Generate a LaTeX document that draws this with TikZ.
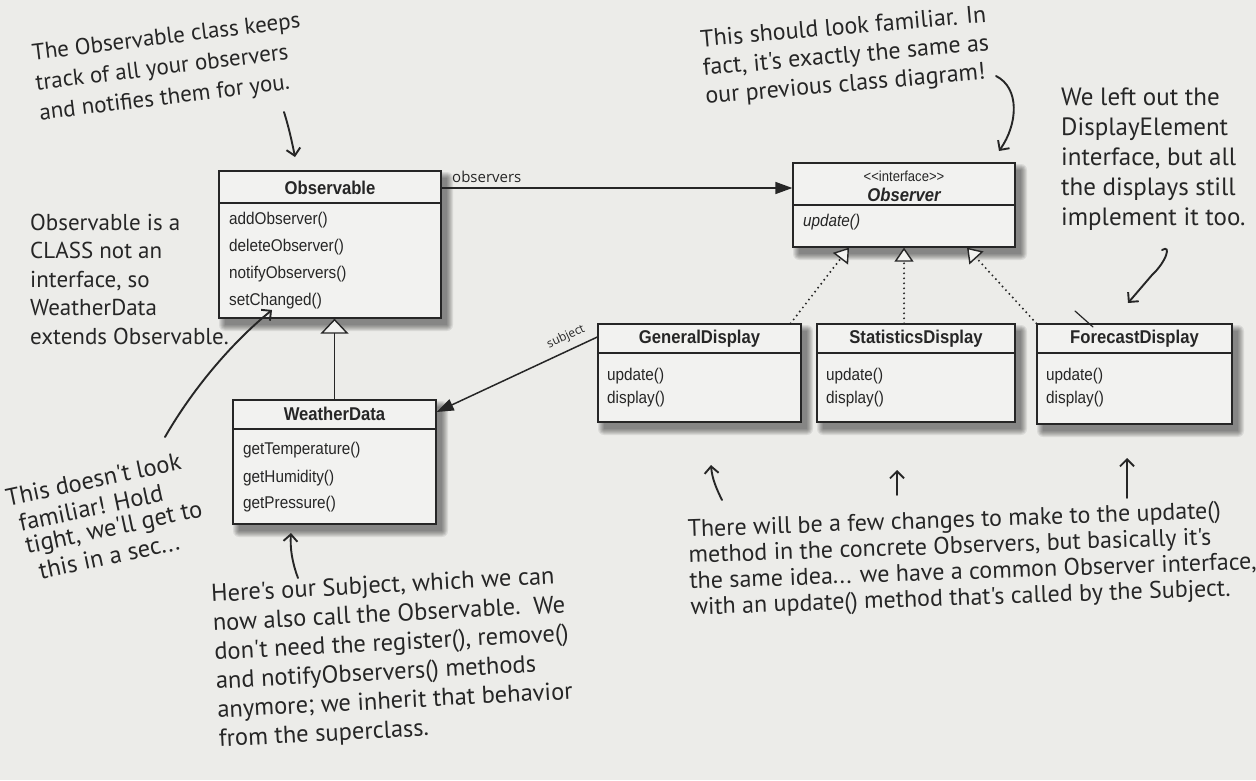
\documentclass[tikz,border=0pt]{standalone}
\usepackage{fontspec}
\usetikzlibrary{arrows.meta,fit,calc}
\newfontfamily\umlf[FakeStretch=0.9]{Liberation Sans}
\newfontfamily\handf{PT Sans}
\newfontfamily\lblf{Open Sans}
\definecolor{bgc}{RGB}{236,236,233}
\definecolor{boxc}{RGB}{242,242,240}
\definecolor{ink}{RGB}{38,38,38}
\definecolor{shc}{RGB}{25,25,25}
\newcommand\umlbox[6]{%
  \foreach \k in {0,...,6}{\fill[shc, fill opacity=0.085, rounded corners=\k pt] ({#2+6-\k},{#3+7-\k}) rectangle ({#4+6+\k},{#5+7+\k});}
  \node[boxstyle, fit={(#2,#3) (#4,#5)}] (#1) {};
  \draw[boxline] (#2,#6) -- (#4,#6);
}
\begin{document}
\begin{tikzpicture}[x=1pt,y=-1pt,
  boxstyle/.style={draw=ink, line width=1.3pt, fill=boxc, inner sep=0pt},
  boxline/.style={draw=ink, line width=1.3pt},
  ctitle/.style={font=\umlf\bfseries\fontsize{18.5}{20}\selectfont, text=ink, inner sep=0pt},
  meth/.style={font=\umlf\fontsize{17}{19}\selectfont, text=ink, anchor=west, inner sep=0pt},
  stereo/.style={font=\umlf\fontsize{14.5}{16}\selectfont, text=ink, inner sep=0pt},
  lbl/.style={font=\lblf\fontsize{15}{17}\selectfont, text=ink, inner sep=0pt},
  hand/.style={font=\handf\fontsize{23}{30}\selectfont, text=ink, align=left, inner sep=0pt},
  assoc/.style={draw=ink, line width=1.5pt, -{Triangle[length=17pt,width=12pt]}},
  inherit/.style={draw=ink, line width=1.5pt, -{Triangle[open,length=15pt,width=28pt,fill=boxc,line width=1.4pt]}},
  realize/.style={draw=ink, line width=2.2pt, line cap=round, dash pattern=on 0pt off 5pt, -{Triangle[open,length=14pt,width=19pt,fill=boxc,line width=1.4pt]}},
  handarrow/.style={draw=ink, line width=1.9pt, line cap=round, -{Straight Barb[length=7pt,width=14pt,line width=1.9pt]}}
]
\fill[bgc] (0,0) rectangle (1256,780);
\useasboundingbox (0,0) rectangle (1256,780);

% ---------- class boxes ----------
\umlbox{obs}{219}{171}{441}{318}{203}
\node[ctitle] (obsT) at (330,188) {Observable};
\node[meth] (obsM1) at (229,220) {addObserver()};
\node[meth] (obsM2) at (229,247) {deleteObserver()};
\node[meth] (obsM3) at (229,274) {notifyObservers()};
\node[meth] (obsM4) at (229,301) {setChanged()};

\umlbox{obsr}{793}{163}{1015}{247}{205}
\node[stereo] (obsrS) at (904,176) {<<interface>>};
\node[ctitle, font=\umlf\bfseries\itshape\fontsize{18.5}{20}\selectfont] (obsrT) at (904,195) {Observer};
\node[meth, font=\umlf\itshape\fontsize{17}{19}\selectfont] (obsrM1) at (803,222) {update()};

\umlbox{gen}{598}{324}{801}{422}{353}
\node[ctitle] (genT) at (699.5,339) {GeneralDisplay};
\node[meth] (genM1) at (607,376) {update()};
\node[meth] (genM2) at (607,399) {display()};

\umlbox{stat}{817}{324}{1015}{422}{353}
\node[ctitle] (statT) at (916,339) {StatisticsDisplay};
\node[meth] (statM1) at (826,376) {update()};
\node[meth] (statM2) at (826,399) {display()};

\umlbox{fore}{1037}{324}{1232}{424}{353}
\node[ctitle] (foreT) at (1134.5,339) {ForecastDisplay};
\node[meth] (foreM1) at (1046,376) {update()};
\node[meth] (foreM2) at (1046,399) {display()};

\umlbox{wd}{233}{400}{436}{524}{429}
\node[ctitle] (wdT) at (334.5,414) {WeatherData};
\node[meth] (wdM1) at (243,450) {getTemperature()};
\node[meth] (wdM2) at (243,478) {getHumidity()};
\node[meth] (wdM3) at (243,504) {getPressure()};

% ---------- connectors ----------
\coordinate (yObs) at (0,188);
\coordinate (ySub1) at (0,337);
\coordinate (ySub2) at (0,412);
\draw[assoc] (obs.east |- yObs) -- (obsr.west |- yObs);
\node[lbl, anchor=west] (lblObs) at (452,177) {observers};

\draw[inherit] (wd.north) -- (wd.north |- obs.south);

\draw[assoc] (gen.west |- ySub1) -- (wd.east |- ySub2);
\node[lbl, font=\lblf\fontsize{12}{14}\selectfont, rotate=25] (lblSub) at (566,337) {subject};

\draw[realize] ([xshift=-11pt]gen.north east) -- ([xshift=-55pt]obsr.south);
\draw[realize] (stat.north -| obsr.south) -- (obsr.south);
\draw[realize] (fore.north west) -- ([xshift=63pt]obsr.south);

% small stray pen mark above ForecastDisplay
\coordinate (mk1) at (1075,311); \coordinate (mk2) at (1093,327);
\draw[draw=ink, line width=1.2pt, line cap=round] (mk1) -- (mk2);

% ---------- annotations ----------
\node[hand, rotate=7] (n1) at (170,68) {The Observable class keeps\\track of all your observers\\and notifies them for you.};
\coordinate (n1a) at (284,112); \coordinate (n1b) at (295,157);
\draw[handarrow] (n1a) .. controls (289,128) and (292,142) .. (n1b);

\node[hand, rotate=5, font=\handf\fontsize{24}{28.5}\selectfont] (n2) at (846,57) {This should look familiar. In\\fact, it's exactly the same as\\our previous class diagram!};
\coordinate (n2a) at (996,76); \coordinate (n2b) at (999,151);
\draw[handarrow] (n2a) .. controls (1020,88) and (1018,124) .. (n2b);

\node[hand, anchor=west, font=\handf\fontsize{25}{30}\selectfont] (n3) at (1061,159) {We left out the\\DisplayElement\\interface, but all\\the displays still\\implement it too.};
\coordinate (n3a) at (1162,250); \coordinate (n3b) at (1128,303);
\draw[handarrow] (n3a) .. controls (1172,244) and (1166,262) .. (1152,275) -- (n3b);

\node[hand, anchor=west, font=\handf\fontsize{23}{28.5}\selectfont] (n4) at (30,279) {Observable is a\\CLASS not an\\interface, so\\WeatherData\\extends Observable.};

\node[hand, rotate=12, anchor=west, font=\handf\fontsize{24.5}{26}\selectfont] (n5a) at (6,498) {This doesn't look};
\node[hand, rotate=12, anchor=west, font=\handf\fontsize{24.5}{26}\selectfont] (n5b) at (19,523) {familiar! Hold};
\node[hand, rotate=12, anchor=west, font=\handf\fontsize{24.5}{26}\selectfont] (n5c) at (26,548) {tight, we'll get to};
\node[hand, rotate=12, anchor=west, font=\handf\fontsize{24.5}{26}\selectfont] (n5d) at (39,571) {this in a sec...};
\coordinate (n5s) at (165,437); \coordinate (n5e) at (272,310);
\draw[handarrow] (n5s) .. controls (195,385) and (235,340) .. (n5e);

\node[hand, rotate=3, anchor=west, font=\handf\fontsize{24.5}{29}\selectfont] (n6) at (215,668) {Here's our Subject, which we can\\now also call the Observable.\ \ We\\don't need the register(), remove()\\and notifyObservers() methods\\anymore; we inherit that behavior\\from the superclass.};
\coordinate (n6s) at (298,578); \coordinate (n6e) at (291,533);
\draw[handarrow] (n6s) .. controls (292,562) and (290,548) .. (n6e);

\node[hand, rotate=2, anchor=west, font=\handf\fontsize{24}{26}\selectfont] (n7) at (689,570) {There will be a few changes to make to the update()\\method in the concrete Observers, but basically it's\\the same idea... we have a common Observer interface,\\with an update() method that's called by the Subject.};
\coordinate (n7a) at (722,500); \coordinate (n7b) at (711,465);
\coordinate (n7c) at (897,495); \coordinate (n7d) at (897,470);
\coordinate (n7e) at (1127,498); \coordinate (n7f) at (1127,458);
\draw[handarrow] (n7a) .. controls (716,488) and (712,478) .. (n7b);
\draw[handarrow] (n7c) -- (n7d);
\draw[handarrow] (n7e) -- (n7f);
\end{tikzpicture}
\end{document}
